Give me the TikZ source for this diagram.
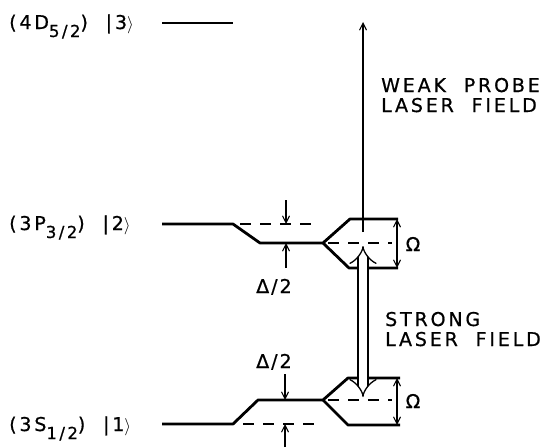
\documentclass[tikz,border=0pt]{standalone}
\usepackage{fontspec}
\newfontfamily\lbl{DejaVu Sans}[LetterSpace=15, WordSpace=2, FakeBold=0.7]
\usetikzlibrary{arrows.meta}
\newcommand\subs[1]{\raisebox{-8pt}{\fontsize{16.5}{16.5}\selectfont #1}}
\begin{document}
\begin{tikzpicture}[x=1pt,y=-1pt,
  lvl/.style={line width=2.8pt},
  dsh/.style={line width=1.8pt, dash pattern=on 11pt off 9pt},
  thinl/.style={line width=1.1pt},
  tip/.style={-{Straight Barb[length=7pt,width=7pt]}},
  tips/.style={{Straight Barb[length=7pt,width=7pt]}-{Straight Barb[length=7pt,width=7pt]}},
  txt/.style={font=\lbl\fontsize{19}{20}\selectfont, inner sep=0pt, align=left}]
\useasboundingbox (0,0) rectangle (548,447);
% level 3
\coordinate (L3a) at (162,23); \coordinate (L3b) at (233,23);
\draw[lvl] (L3a) -- (L3b);
% level 2
\coordinate (L2a) at (162,224); \coordinate (L2b) at (233,224);
\coordinate (L2c) at (260,243); \coordinate (L2d) at (323,243);
\coordinate (L2u) at (350,219); \coordinate (L2ue) at (398,219);
\coordinate (L2l) at (349,268); \coordinate (L2le) at (398,268);
\draw[lvl, line join=round] (L2a) -- (L2b) -- (L2c) -- (L2d) -- (L2u) -- (L2ue);
\draw[lvl, line join=round] (L2d) -- (L2l) -- (L2le);
\coordinate (D2a) at (240,224); \coordinate (D2b) at (316,224);
\draw[dsh] (D2a) -- (D2b);
\coordinate (M2a) at (328,243); \coordinate (M2b) at (392,243);
\draw[dsh] (M2a) -- (M2b);
\coordinate (A2t) at (286,200); \coordinate (A2ts) at (286,224);
\coordinate (A2b) at (286,268); \coordinate (A2bs) at (286,243);
\draw[thinl,tip] (A2t) -- (A2ts);
\draw[thinl,tip] (A2b) -- (A2bs);
\coordinate (O2a) at (397,219); \coordinate (O2b) at (397,268);
\draw[thinl,tips] (O2a) -- (O2b);
% probe
\coordinate (P0) at (363,232); \coordinate (P1) at (363,22);
\draw[thinl,tip] (P0) -- (P1);
% level 1
\coordinate (L1a) at (162,424); \coordinate (L1b) at (233,424);
\coordinate (L1c) at (258,400); \coordinate (L1d) at (323,400);
\coordinate (L1u) at (348,378); \coordinate (L1ue) at (400,378);
\coordinate (L1l) at (348,425); \coordinate (L1le) at (400,425);
\draw[lvl, line join=round] (L1a) -- (L1b) -- (L1c) -- (L1d) -- (L1u) -- (L1ue);
\draw[lvl, line join=round] (L1d) -- (L1l) -- (L1le);
\coordinate (D1a) at (243,424); \coordinate (D1b) at (318,424);
\draw[dsh] (D1a) -- (D1b);
\coordinate (M1a) at (328,400); \coordinate (M1b) at (392,400);
\draw[dsh] (M1a) -- (M1b);
\coordinate (A1t) at (285,374); \coordinate (A1ts) at (285,400);
\coordinate (A1b) at (285,447); \coordinate (A1bs) at (285,424);
\draw[thinl,tip] (A1t) -- (A1ts);
\draw[thinl,tip] (A1b) -- (A1bs);
\coordinate (O1a) at (397,378); \coordinate (O1b) at (397,425);
\draw[thinl,tips] (O1a) -- (O1b);
% strong field double arrow
\coordinate (S0) at (363,246); \coordinate (S1) at (363,397);
\draw[double, double distance=8.5pt, line width=1.3pt, {Implies}-{Implies}] (S0) -- (S1);
% labels
\node[txt, anchor=base west] (k3) at (9,29) {(4D\subs{5/2}) |3$\rangle$};
\node[txt, anchor=base west] (k2) at (9,230) {(3P\subs{3/2}) |2$\rangle$};
\node[txt, anchor=base west] (k1) at (9,431) {(3S\subs{1/2}) |1$\rangle$};
\node[txt, anchor=base west] (d2) at (256,293) {Δ\kern2pt/\kern2pt2};
\node[txt, anchor=base west] (d1) at (256,368) {Δ\kern2pt/\kern2pt2};
\node[txt, anchor=center] (o2) at (413,244) {Ω};
\node[txt, anchor=center] (o1) at (413,401) {Ω};
\node[txt, anchor=base west] (wp) at (381,112) {WEAK PROBE\\LASER FIELD};
\node[txt, anchor=base west] (sf) at (385,346) {STRONG\\LASER FIELD};
\end{tikzpicture}
\end{document}
